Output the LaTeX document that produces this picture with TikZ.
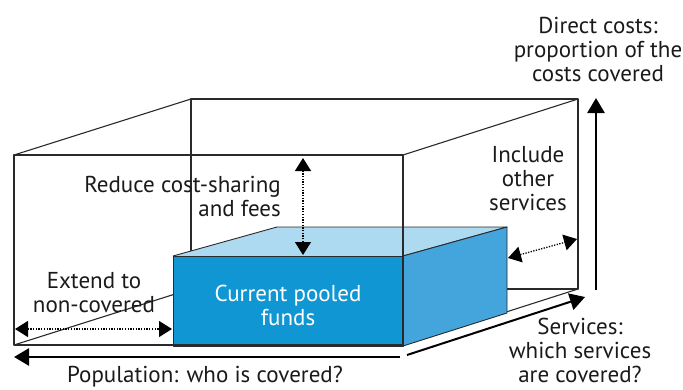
\documentclass[tikz,border=0pt]{standalone}
\usepackage{fontspec}
\setmainfont{PT Sans}
\usetikzlibrary{arrows.meta}
\definecolor{edge}{HTML}{2A2A2A}
\definecolor{ink}{HTML}{1A1A1A}
\definecolor{poolfront}{HTML}{1196D4}
\definecolor{poolside}{HTML}{44A5DC}
\definecolor{pooltop}{HTML}{AEDAF1}
\begin{document}
\begin{tikzpicture}[x=1pt,y=-1pt,
  frame/.style={draw=edge,line width=1.1pt,line join=round},
  face/.style={draw=edge,line width=0.9pt,line join=round},
  axis/.style={line width=2.6pt,-{Triangle[width=17pt,length=15pt]}},
  change/.style={line width=1.3pt,dash pattern=on 1.3pt off 1.4pt,
    {Triangle[width=16pt,length=13pt]}-{Triangle[width=16pt,length=13pt]}},
  lab/.style={font=\fontsize{23}{24}\selectfont,align=center,inner sep=0pt,text=ink}]
\useasboundingbox (0,0) rectangle (683,389);

% corners of the outer frame
\coordinate (FTL) at (14,155);  \coordinate (FTR) at (403,155);
\coordinate (FBL) at (14,345);  \coordinate (FBR) at (403,345);
\coordinate (BTL) at (191,99);  \coordinate (BTR) at (578,99);
\coordinate (BBL) at (191,289); \coordinate (BBR) at (578,289);

% corners of the pooled-funds block
\coordinate (PFTL) at (173,256); \coordinate (PFTR) at (403,256);
\coordinate (PFBL) at (173,346); \coordinate (PFBR) at (403,346);
\coordinate (PBTL) at (277,227); \coordinate (PBTR) at (507,227);
\coordinate (PBBR) at (507,313);

% hidden / back edges of the frame
\draw[frame] (BTL) -- (BBL) -- (BBR) -- (BTR) -- cycle;
\draw[frame] (FTL) -- (BTL);
\draw[frame] (FTR) -- (BTR);
\draw[frame] (FBL) -- (BBL);
\draw[frame] (FBR) -- (BBR);

% pooled-funds block
\fill[pooltop] (PFTL) -- (PBTL) -- (PBTR) -- (PFTR) -- cycle;
\draw[face] (PFTL) -- (PBTL) -- (PBTR) -- (PFTR);
\filldraw[face,fill=poolside] (PFTR) -- (PBTR) -- (PBBR) -- (PFBR) -- cycle;
\filldraw[face,fill=poolfront] (PFTL) rectangle (PFBR);
\node[lab,text=white,anchor=base] (pool) at (288,325) {Current pooled\\funds};

% front face of the frame
\draw[frame] (FTL) rectangle (FBR);

% axes
\coordinate (popS) at (400,357); \coordinate (popE) at (14,357);
\draw[axis] (popS) -- (popE);
\coordinate (srvS) at (407,355); \coordinate (srvE) at (585,297);
\draw[axis,line width=2pt] (srvS) -- (srvE);
\coordinate (costS) at (596,290); \coordinate (costE) at (596,98);
\draw[axis] (costS) -- (costE);

% dotted change arrows
\coordinate (redA) at (303,158); \coordinate (redB) at (303,255);
\draw[change] (redA) -- (redB);
\coordinate (incA) at (508,258); \coordinate (incB) at (577,239);
\draw[change] (incA) -- (incB);
\coordinate (extA) at (15,329); \coordinate (extB) at (172,329);
\draw[change] (extA) -- (extB);

% labels (base anchor = baseline of the last line)
\node[lab,align=right,anchor=base east] (reduce) at (281,216) {Reduce cost-sharing\\and fees};
\node[lab,anchor=base] (include) at (528,210) {Include\\other\\services};
\node[lab,anchor=base] (direct) at (598,81) {Direct costs:\\proportion of the\\costs covered};
\node[lab,anchor=base] (extend) at (94,312) {Extend to\\non-covered};
\node[lab,anchor=base] (population) at (205,382) {Population: who is covered?};
\node[lab,anchor=base] (services) at (580,382) {Services:\\which services\\are covered?};
\end{tikzpicture}
\end{document}
